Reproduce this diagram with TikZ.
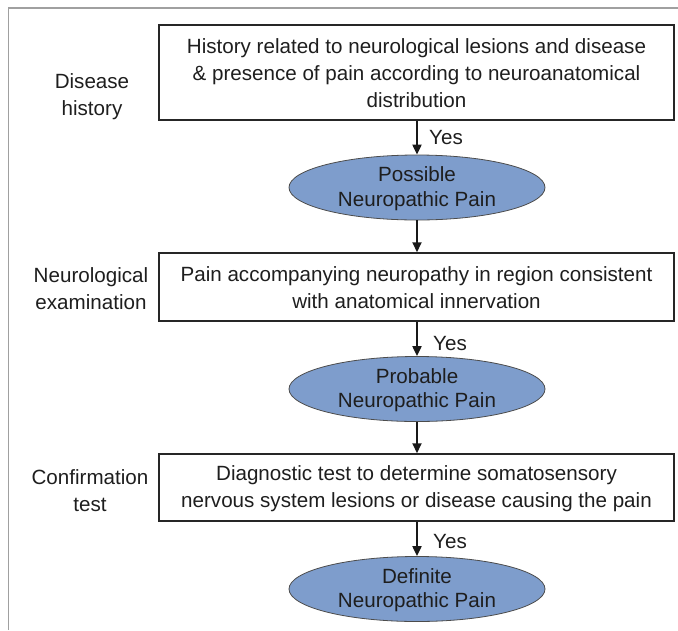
\documentclass[tikz,border=0pt]{standalone}
\usepackage{fontspec}
\setmainfont{Liberation Sans}
\usetikzlibrary{shapes.geometric,arrows.meta}
\definecolor{ellfill}{RGB}{126,157,204}
\definecolor{txt}{RGB}{30,30,30}
\definecolor{framegray}{RGB}{160,160,160}
\tikzset{
  stepbox/.style={draw=black!85, line width=1.5pt, rectangle, minimum width=515pt, align=center, text=txt, inner sep=0pt},
  outcome/.style={draw=black!70, line width=0.8pt, ellipse, fill=ellfill, minimum width=256pt, minimum height=65pt, align=center, text=txt, inner sep=0pt, font=\fontsize{20.6}{24.5}\selectfont},
  sidelabel/.style={align=center, text=txt, inner sep=0pt},
  flow/.style={line width=2pt, draw=black!90, -{Triangle[length=10pt,width=9pt]}},
  yeslabel/.style={text=txt, inner sep=0pt, anchor=west}
}
\begin{document}
\begin{tikzpicture}[x=1pt,y=-1pt, font=\fontsize{20.6}{27}\selectfont]
\useasboundingbox (0,0) rectangle (678,630);
% partial frame
\coordinate (fa) at (8.5,630);
\coordinate (fb) at (8.5,8);
\coordinate (fc) at (678,8);
\draw[framegray, line width=1.6pt] (fa) -- (fb) -- (fc);

% boxes
\node[stepbox, minimum height=95pt] (b1) at (416.5,72.5) {\rule{0pt}{17pt}History related to neurological lesions and disease\\ \& presence of pain according to neuroanatomical\\ distribution};
\node[stepbox, minimum height=68pt] (b2) at (416.5,287) {\rule{0pt}{17pt}Pain accompanying neuropathy in region consistent\\ with anatomical innervation};
\node[stepbox, minimum height=67pt] (b3) at (416.5,487.5) {\rule{0pt}{17pt}Diagnostic test to determine somatosensory\\ nervous system lesions or disease causing the pain};

% ellipses
\node[outcome] (e1) at (417,187.5) {\rule{0pt}{17pt}Possible\\ Neuropathic Pain};
\node[outcome] (e2) at (417,389) {\rule{0pt}{17pt}Probable\\ Neuropathic Pain};
\node[outcome] (e3) at (417,589) {\rule{0pt}{17pt}Definite\\ Neuropathic Pain};

% side labels
\node[sidelabel] (l1) at (92,97) {Disease\\ history};
\node[sidelabel] (l2) at (91,289) {Neurological\\ examination};
\node[sidelabel] (l3) at (90,491) {Confirmation\\ test};

% arrows
\draw[flow] (b1.south -| e1.north) -- (e1.north);
\draw[flow] (e1.south) -- (e1.south |- b2.north);
\draw[flow] (b2.south -| e2.north) -- (e2.north);
\draw[flow] (e2.south) -- (e2.south |- b3.north);
\draw[flow] (b3.south -| e3.north) -- (e3.north);

% yes labels
\node[yeslabel] (y1) at (429,138) {Yes};
\node[yeslabel] (y2) at (433,344) {Yes};
\node[yeslabel] (y3) at (433,542) {Yes};
\end{tikzpicture}
\end{document}
